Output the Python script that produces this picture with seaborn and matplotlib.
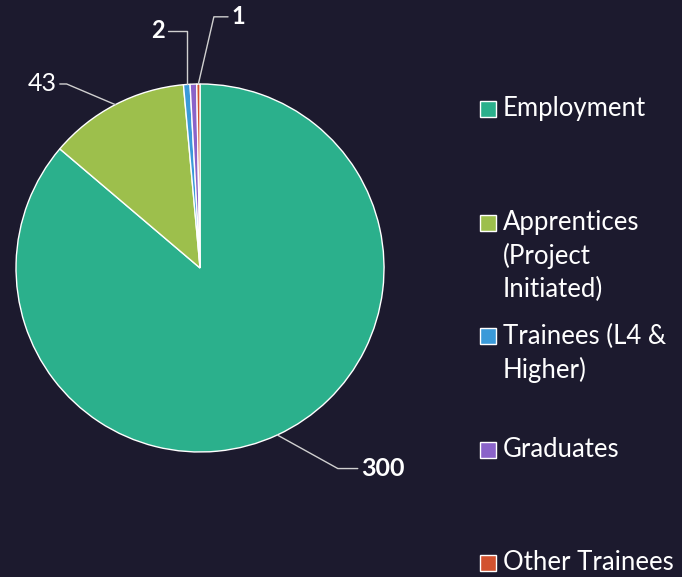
import numpy as np
import matplotlib
matplotlib.use("Agg")
import matplotlib.pyplot as plt
import seaborn as sns

# data
categories = ["Employment", "Apprentices\n(Project\nInitiated)", "Trainees (L4 &\nHigher)",
              "Graduates", "Other Trainees"]
values = [300, 43, 2, 2, 1]
value_labels = ["300", "43", "2", "", "1"]
colors = ["#2bb08c", "#9dbf4c", "#3a9ad9", "#8a63c9", "#d2522f"]

bg = "#1c1a2e"
sns.set_theme(style="dark", rc={"figure.facecolor": bg, "axes.facecolor": bg})
plt.rcParams['font.family'] = ['Lato', 'DejaVu Sans']

fig = plt.figure(figsize=(6.82, 5.77), dpi=100)
ax = fig.add_axes([-0.1114, 0.0572, 0.8094, 0.9567])
ax.set_facecolor(bg)

wedges, _ = ax.pie(values, colors=sns.color_palette(colors), startangle=90, counterclock=False,
                   wedgeprops=dict(edgecolor="white", linewidth=1))
ax.set_xlim(-1.5, 1.5)
ax.set_ylim(-1.5, 1.5)
ax.set_aspect("equal")
ax.axis("off")

# label placement: text x, text y, leader angle at wedge, alignment, weight
label_pos = [(0.875, -1.09, 151, "left", "bold"), (-0.78, 1.0, 157, "right", "normal"),
             (-0.19, 1.29, 90, "right", "bold"), None, (0.17, 1.365, 77, "left", "bold")]
total = sum(values)
cum = 0
for v, lab, pos in zip(values, value_labels, label_pos):
    mid = cum + v / 2
    cum += v
    if not lab or pos is None:
        continue
    ang = np.deg2rad(90 - 360 * mid / total)
    xy = (np.cos(ang), np.sin(ang))
    tx, ty, angB, ha, fw = pos
    ax.annotate(lab, xy=xy, xytext=(tx, ty), ha=ha, va="center", color="white",
                fontsize=18 if lab in ("300", "43") else 17, fontweight=fw,
                arrowprops=dict(arrowstyle="-", color="#d0d0d0", lw=1,
                                shrinkA=0, shrinkB=0,
                                connectionstyle=f"angle,angleA=0,angleB={angB},rad=0"))

# legend drawn on the right
y0 = 109
step = 113.5
for i, (lab, c) in enumerate(zip(categories, colors)):
    y = 1 - (y0 + step * i) / 577
    fig.patches.append(plt.Rectangle((480 / 682, y - 8 / 577), 16 / 682, 16 / 577,
                                     transform=fig.transFigure, facecolor=c,
                                     edgecolor="white", linewidth=1))
    fig.text(503 / 682, y + 12.5 / 577, lab, color="white", fontsize=18.5, va="top",
             ha="left", linespacing=1.38)

fig.savefig("out.png", dpi=100, facecolor=bg)
